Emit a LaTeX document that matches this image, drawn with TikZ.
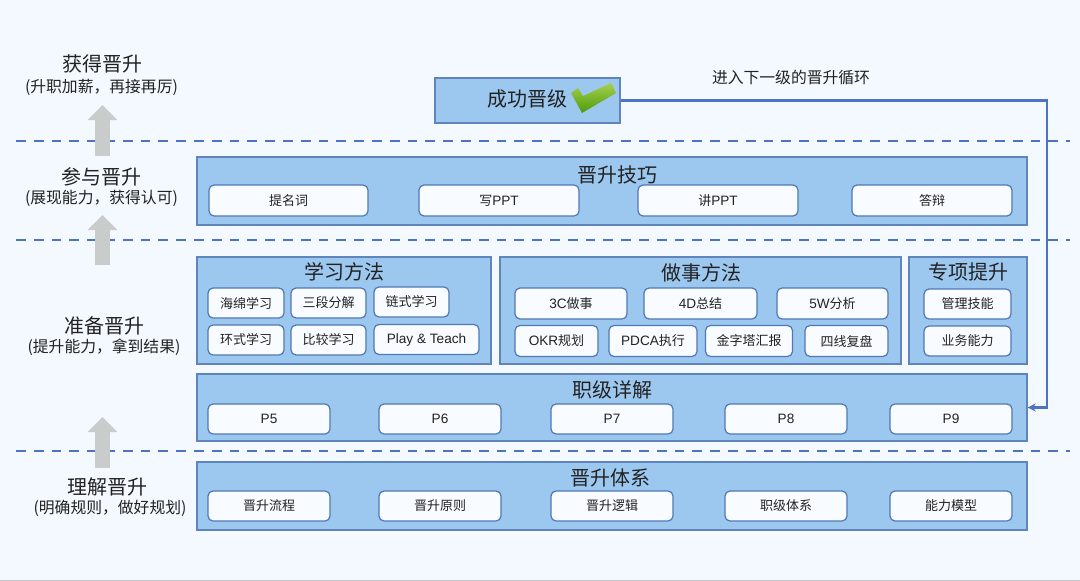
\documentclass[tikz,border=0pt]{standalone}
\usepackage{fontspec}
\setmainfont{Noto Sans CJK SC}
\newfontfamily\latinfont{Liberation Sans}
\newcommand{\lat}[1]{{\latinfont\fontsize{13.6}{15}\selectfont #1}}
\usetikzlibrary{arrows.meta, positioning}
\definecolor{pagebg}{HTML}{F4F8FF}
\definecolor{panelfill}{HTML}{9CC8F0}
\definecolor{paneledge}{HTML}{5F85BC}
\definecolor{tagfill}{HTML}{F8FBFF}
\definecolor{tagedge}{HTML}{4F78B5}
\definecolor{flowblue}{HTML}{4C74C0}
\definecolor{risegray}{HTML}{C8CCCA}
\definecolor{inktext}{HTML}{222222}
\definecolor{tickhigh}{HTML}{A6D14A}
\definecolor{ticklow}{HTML}{4E9A10}
\tikzset{
  panel/.style={draw=paneledge, fill=panelfill, line width=1.4pt, inner sep=0pt},
  paneltitle/.style={font=\fontsize{20}{22}\selectfont, text=inktext, inner sep=0pt},
  tagbox/.style={draw=tagedge, fill=tagfill, line width=1.2pt, rounded corners=5pt, inner sep=0pt,
    font=\fontsize{13}{15}\selectfont, text=inktext},
  stage/.style={font=\fontsize{20}{22}\selectfont, text=inktext, inner sep=0pt},
  stagenote/.style={font=\fontsize{15.8}{18}\selectfont, text=inktext, inner sep=0pt},
  divider/.style={draw=flowblue, line width=2.3pt, dash pattern=on 9.8pt off 8pt},
  risearrow/.style={draw=risegray, line width=15.5pt, -{Triangle[length=15pt,width=29pt]}}
}
\begin{document}
\begin{tikzpicture}[x=1pt, y=-1pt]
  \fill[pagebg] (0,0) rectangle (1080,581);
  \fill[black!22] (0,580) rectangle (1080,581);
  \useasboundingbox (0,0) rectangle (1080,581);
  % dashed dividers
  \coordinate (d1a) at (16,141);  \coordinate (d1b) at (1070,141);
  \coordinate (d2a) at (16,240);  \coordinate (d2b) at (1070,240);
  \coordinate (d3a) at (16,451);  \coordinate (d3b) at (1070,451);
  \draw[divider] (d1a) -- (d1b);
  \draw[divider] (d2a) -- (d2b);
  \draw[divider] (d3a) -- (d3b);
  % left column
  \coordinate (r1a) at (102.5,156);  \coordinate (r1b) at (102.5,105);
  \coordinate (r2a) at (102.5,265);  \coordinate (r2b) at (102.5,215);
  \coordinate (r3a) at (102.5,468);  \coordinate (r3b) at (102.5,417);
  \draw[risearrow] (r1a) -- (r1b);
  \draw[risearrow] (r2a) -- (r2b);
  \draw[risearrow] (r3a) -- (r3b);
  \node[stage] (s1) at (102,64) {获得晋升};
  \node[stagenote] (n1) at (101.5,87) {(升职加薪，再接再厉)};
  \node[stage] (s2) at (101.5,177) {参与晋升};
  \node[stagenote] (n2) at (101.5,198) {(展现能力，获得认可)};
  \node[stage] (s3) at (104,326) {准备晋升};
  \node[stagenote] (n3) at (104,347) {(提升能力，拿到结果)};
  \node[stage] (s4) at (107,487) {理解晋升};
  \node[stagenote] (n4) at (110,508) {(明确规则，做好规划)};
  % success box
  \node[panel, minimum width=185pt, minimum height=45pt] (done) at (527.5,100.5) {};
  \node[paneltitle] (donetext) at (527.5,99) {成功晋级};
  \shade[top color=tickhigh, bottom color=ticklow]
    (571,93) -- (578,88) -- (583,96) -- (611,83) -- (616,93) -- (582,113) -- cycle;
  % panels
  \node[panel, minimum width=830pt, minimum height=68pt] (skill) at (612,191) {};
  \node[paneltitle] (skilltitle) at (617,175) {晋升技巧};
  \node[tagbox, minimum width=159pt, minimum height=31pt] (t1) at (288.5,200.5) {提名词};
  \node[tagbox, minimum width=160pt, minimum height=31pt] (t2) at (499,200.5) {写\lat{PPT}};
  \node[tagbox, minimum width=160pt, minimum height=31pt] (t3) at (718,200.5) {讲\lat{PPT}};
  \node[tagbox, minimum width=160pt, minimum height=31pt] (t4) at (932,200.5) {答辩};

  \node[panel, minimum width=294pt, minimum height=107pt] (study) at (344,310.5) {};
  \node[paneltitle] (studytitle) at (344,272) {学习方法};
  \node[tagbox, minimum width=76pt, minimum height=30pt] (l1) at (246,303) {海绵学习};
  \node[tagbox, minimum width=75pt, minimum height=30pt] (l2) at (328.5,303) {三段分解};
  \node[tagbox, minimum width=75pt, minimum height=30pt] (l3) at (411.5,302) {链式学习};
  \node[tagbox, minimum width=76pt, minimum height=30pt] (l4) at (246,340) {环式学习};
  \node[tagbox, minimum width=75pt, minimum height=30pt] (l5) at (328.5,340) {比较学习};
  \node[tagbox, minimum width=105pt, minimum height=30pt] (l6) at (426.5,339.5) {\lat{Play \& Teach}};

  \node[panel, minimum width=401pt, minimum height=107pt] (work) at (700.5,310.5) {};
  \node[paneltitle] (worktitle) at (701,273) {做事方法};
  \node[tagbox, minimum width=112pt, minimum height=31pt] (w1) at (571,303.5) {\lat{3C}做事};
  \node[tagbox, minimum width=113pt, minimum height=31pt] (w2) at (700.5,303.5) {\lat{4D}总结};
  \node[tagbox, minimum width=111pt, minimum height=31pt] (w3) at (832.5,303.5) {\lat{5W}分析};
  \node[tagbox, minimum width=83pt, minimum height=31pt] (w4) at (556.5,341) {\lat{OKR}规划};
  \node[tagbox, minimum width=88pt, minimum height=31pt] (w5) at (653,341) {\lat{PDCA}执行};
  \node[tagbox, minimum width=87pt, minimum height=31pt] (w6) at (749,341) {金字塔汇报};
  \node[tagbox, minimum width=83pt, minimum height=31pt] (w7) at (846.5,341) {四线复盘};

  \node[panel, minimum width=118pt, minimum height=107pt] (focus) at (968,310.5) {};
  \node[paneltitle] (focustitle) at (968,272) {专项提升};
  \node[tagbox, minimum width=87pt, minimum height=30pt] (f1) at (967.5,304) {管理技能};
  \node[tagbox, minimum width=87pt, minimum height=30pt] (f2) at (967.5,341) {业务能力};

  \node[panel, minimum width=830pt, minimum height=67pt] (rank) at (612,407.5) {};
  \node[paneltitle] (ranktitle) at (612,390) {职级详解};
  \node[tagbox, minimum width=122pt, minimum height=30pt] (p5) at (269,419) {\lat{P5}};
  \node[tagbox, minimum width=122pt, minimum height=30pt] (p6) at (440,419) {\lat{P6}};
  \node[tagbox, minimum width=122pt, minimum height=30pt] (p7) at (612,419) {\lat{P7}};
  \node[tagbox, minimum width=122pt, minimum height=30pt] (p8) at (786,419) {\lat{P8}};
  \node[tagbox, minimum width=122pt, minimum height=30pt] (p9) at (951,419) {\lat{P9}};

  \node[panel, minimum width=830pt, minimum height=68pt] (base) at (612,496) {};
  \node[paneltitle] (basetitle) at (610,478) {晋升体系};
  \node[tagbox, minimum width=122pt, minimum height=30pt] (b1) at (269,506) {晋升流程};
  \node[tagbox, minimum width=122pt, minimum height=30pt] (b2) at (440,506) {晋升原则};
  \node[tagbox, minimum width=122pt, minimum height=30pt] (b3) at (612,506) {晋升逻辑};
  \node[tagbox, minimum width=122pt, minimum height=30pt] (b4) at (786,506) {职级体系};
  \node[tagbox, minimum width=122pt, minimum height=30pt] (b5) at (951,506) {能力模型};
  % next cycle
  \coordinate (turn) at (1047,100.5);
  \draw[flowblue, line width=2.4pt, -{Stealth[length=8pt,width=8pt]}]
    (done.east) -- (turn) |- (rank.east);
  \node[font=\fontsize{15.8}{18}\selectfont, text=inktext, inner sep=0pt] (nextlabel) at (791,78) {进入下一级的晋升循环};
\end{tikzpicture}
\end{document}
